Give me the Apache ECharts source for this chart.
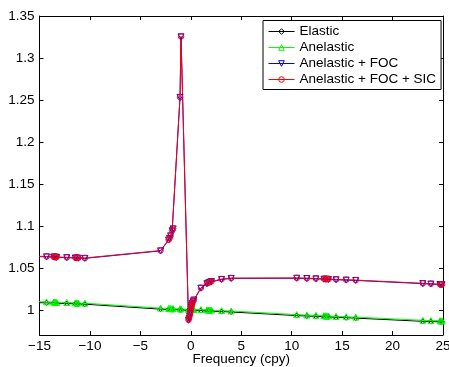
<!DOCTYPE html>
<html>
<head>
<meta charset="utf-8">
<script src="https://cdn.jsdelivr.net/npm/echarts@6/dist/echarts.min.js"></script>
<style>
  html, body { margin: 0; padding: 0; background: #fff; }
  #chart { width: 449px; height: 367px; }
</style>
</head>
<body>
<div id="chart"></div>
<script>
// frequencies (cpy), points outside -15..25 get clipped by the axes
const freq = [-15.6, -14.3, -13.6, -13.5, -13.4, -13.3, -12.3, -11.45, -11.3, -11.15, -10.5,
  -3.0, -2.2, -2.1, -2.0, -1.85, -1.75, -1.07, -0.97,
  -0.23, -0.18, -0.12, -0.07, -0.03, 0.01, 0.05, 0.1, 0.15, 0.22, 0.3,
  1.0, 1.6, 1.75, 1.9, 2.05, 3.05, 4.0,
  10.5, 11.5, 12.4, 13.2, 13.35, 13.5, 13.65, 14.4, 15.4, 16.35,
  23.0, 23.8, 24.7, 24.8, 24.9, 25.6]

const elastic = [1.0086, 1.0083, 1.0080, 1.0079, 1.0078, 1.0077, 1.0075, 1.0071, 1.0070, 1.0069, 1.0067,
  1.0008, 1.0004, 1.0004, 1.0003, 1.0002, 1.0002, 1.0000, 0.9999,
  0.9994, 0.9994, 0.9994, 0.9993, 0.9993, 0.9993, 0.9993, 0.9992, 0.9992, 0.9992, 0.9992,
  0.9991, 0.9988, 0.9987, 0.9986, 0.9985, 0.9979, 0.9974,
  0.9931, 0.9926, 0.9922, 0.9918, 0.9917, 0.9916, 0.9915, 0.9910, 0.9906, 0.9901,
  0.9863, 0.9860, 0.9858, 0.9857, 0.9857, 0.9854]

const anelastic = [1.0098, 1.0095, 1.0092, 1.0091, 1.0090, 1.0089, 1.0087, 1.0083, 1.0082, 1.0081, 1.0079,
  1.0020, 1.0016, 1.0016, 1.0015, 1.0014, 1.0014, 1.0012, 1.0011,
  1.0006, 1.0006, 1.0006, 1.0005, 1.0005, 1.0005, 1.0005, 1.0004, 1.0004, 1.0004, 1.0004,
  1.0003, 1.0000, 0.9999, 0.9998, 0.9997, 0.9991, 0.9986,
  0.9943, 0.9938, 0.9934, 0.9930, 0.9929, 0.9928, 0.9927, 0.9922, 0.9918, 0.9913,
  0.9875, 0.9872, 0.9870, 0.9869, 0.9869, 0.9866]

const anelasticFoc = [1.0636, 1.0631, 1.0628, 1.0627, 1.0626, 1.0625, 1.0621, 1.0617, 1.0616, 1.0615, 1.0613,
  1.0702, 1.0831, 1.0851, 1.0881, 1.0941, 1.0964, 1.2530, 1.3252,
  0.9876, 0.9896, 0.9921, 0.9951, 0.9981, 1.0006, 1.0031, 1.0056, 1.0076, 1.0096, 1.0116,
  1.0258, 1.0311, 1.0321, 1.0329, 1.0336, 1.0362, 1.0374,
  1.0376, 1.0373, 1.0369, 1.0365, 1.0364, 1.0363, 1.0362, 1.0358, 1.0354, 1.0350,
  1.0312, 1.0307, 1.0301, 1.0300, 1.0299, 1.0296]

const anelasticFocSic = [1.0640, 1.0635, 1.0632, 1.0631, 1.0630, 1.0629, 1.0625, 1.0621, 1.0620, 1.0619, 1.0617,
  1.0706, 1.0835, 1.0855, 1.0885, 1.0945, 1.0968, 1.2534, 1.3256,
  0.9880, 0.9900, 0.9925, 0.9955, 0.9985, 1.0010, 1.0035, 1.0060, 1.0080, 1.0100, 1.0120,
  1.0262, 1.0315, 1.0325, 1.0333, 1.0340, 1.0366, 1.0378,
  1.0380, 1.0377, 1.0373, 1.0369, 1.0368, 1.0367, 1.0366, 1.0362, 1.0358, 1.0354,
  1.0316, 1.0311, 1.0305, 1.0304, 1.0303, 1.0300]

const yTicks = [1, 1.05, 1.1, 1.15, 1.2, 1.25, 1.3, 1.35]
const seriesNames = ['Elastic', 'Anelastic', 'Anelastic + FOC', 'Anelastic + FOC + SIC']
const colors = ['#000000', '#00ff00', '#0000ff', '#ff0000']

const font = 'Liberation Sans, Arial, Helvetica, sans-serif'
const pts = ys => freq.map((f, i) => [f, ys[i]])

const mkSeries = (i, ys, symbol, size, rotate) => ({
  name: seriesNames[i],
  type: 'line',
  data: pts(ys),
  symbol,
  symbolSize: size,
  symbolRotate: rotate || 0,
  clip: true,
  lineStyle: { color: colors[i], width: 1 },
  itemStyle: { color: 'rgba(0,0,0,0)', borderColor: colors[i], borderWidth: 1 },
  emphasis: { disabled: true }
})

const fmtX = v => (v < 0 ? '\u2212' + Math.abs(v) : String(v))
const fmtY = v => String(+(+v).toFixed(2))

const chart = echarts.init(document.getElementById('chart'))
chart.setOption({
  animation: false,
  backgroundColor: '#fff',
  textStyle: { fontFamily: font },
  grid: { left: 39.5, right: 6, top: 16, bottom: 32, containLabel: false, outerBoundsMode: 'none' },
  legend: {
    orient: 'vertical',
    left: 263,
    top: 20.5,
    padding: [4, 5, 3, 5],
    itemGap: 2,
    itemWidth: 26,
    itemHeight: 7,
    backgroundColor: '#fff',
    borderColor: '#000',
    borderWidth: 1,
    lineStyle: { width: 1 },
    textStyle: { fontFamily: font, fontSize: 13.5, color: '#000' },
    data: seriesNames.map((name, i) => ({
      name,
      itemStyle: { color: 'rgba(0,0,0,0)', borderColor: colors[i], borderWidth: 1 }
    }))
  },
  xAxis: [{
    type: 'value',
    min: -15,
    max: 25,
    interval: 5,
    name: 'Frequency (cpy)',
    nameLocation: 'middle',
    nameGap: 17,
    nameMoveOverlap: false,
    nameTextStyle: { fontFamily: font, fontSize: 13.5, color: '#000', verticalAlign: 'top' },
    axisLine: { onZero: false, lineStyle: { color: '#000', width: 1 } },
    axisTick: { inside: true, length: 4, lineStyle: { color: '#000' } },
    axisLabel: { margin: 4, fontFamily: font, fontSize: 13.5, color: '#000', formatter: fmtX },
    splitLine: { show: false }
  }, {
    type: 'value',
    position: 'top',
    min: -15,
    max: 25,
    interval: 5,
    axisLine: { onZero: false, lineStyle: { color: '#000', width: 1 } },
    axisTick: { inside: true, length: 4, lineStyle: { color: '#000' } },
    axisLabel: { show: false },
    splitLine: { show: false }
  }],
  yAxis: [{
    type: 'value',
    min: 0.97,
    max: 1.35,
    axisLine: { onZero: false, lineStyle: { color: '#000', width: 1 } },
    axisTick: { inside: true, length: 4, customValues: yTicks, lineStyle: { color: '#000' } },
    axisLabel: { margin: 5, fontFamily: font, fontSize: 13.5, color: '#000', customValues: yTicks, formatter: fmtY },
    splitLine: { show: false }
  }, {
    type: 'value',
    position: 'right',
    min: 0.97,
    max: 1.35,
    axisLine: { onZero: false, lineStyle: { color: '#000', width: 1 } },
    axisTick: { inside: true, length: 4, customValues: yTicks, lineStyle: { color: '#000' } },
    axisLabel: { show: false },
    splitLine: { show: false }
  }],
  series: [
    mkSeries(0, elastic, 'diamond', 5),
    mkSeries(1, anelastic, 'triangle', 6),
    mkSeries(2, anelasticFoc, 'triangle', 6, 180),
    mkSeries(3, anelasticFocSic, 'circle', 5.5)
  ]
})
</script>
</body>
</html>
